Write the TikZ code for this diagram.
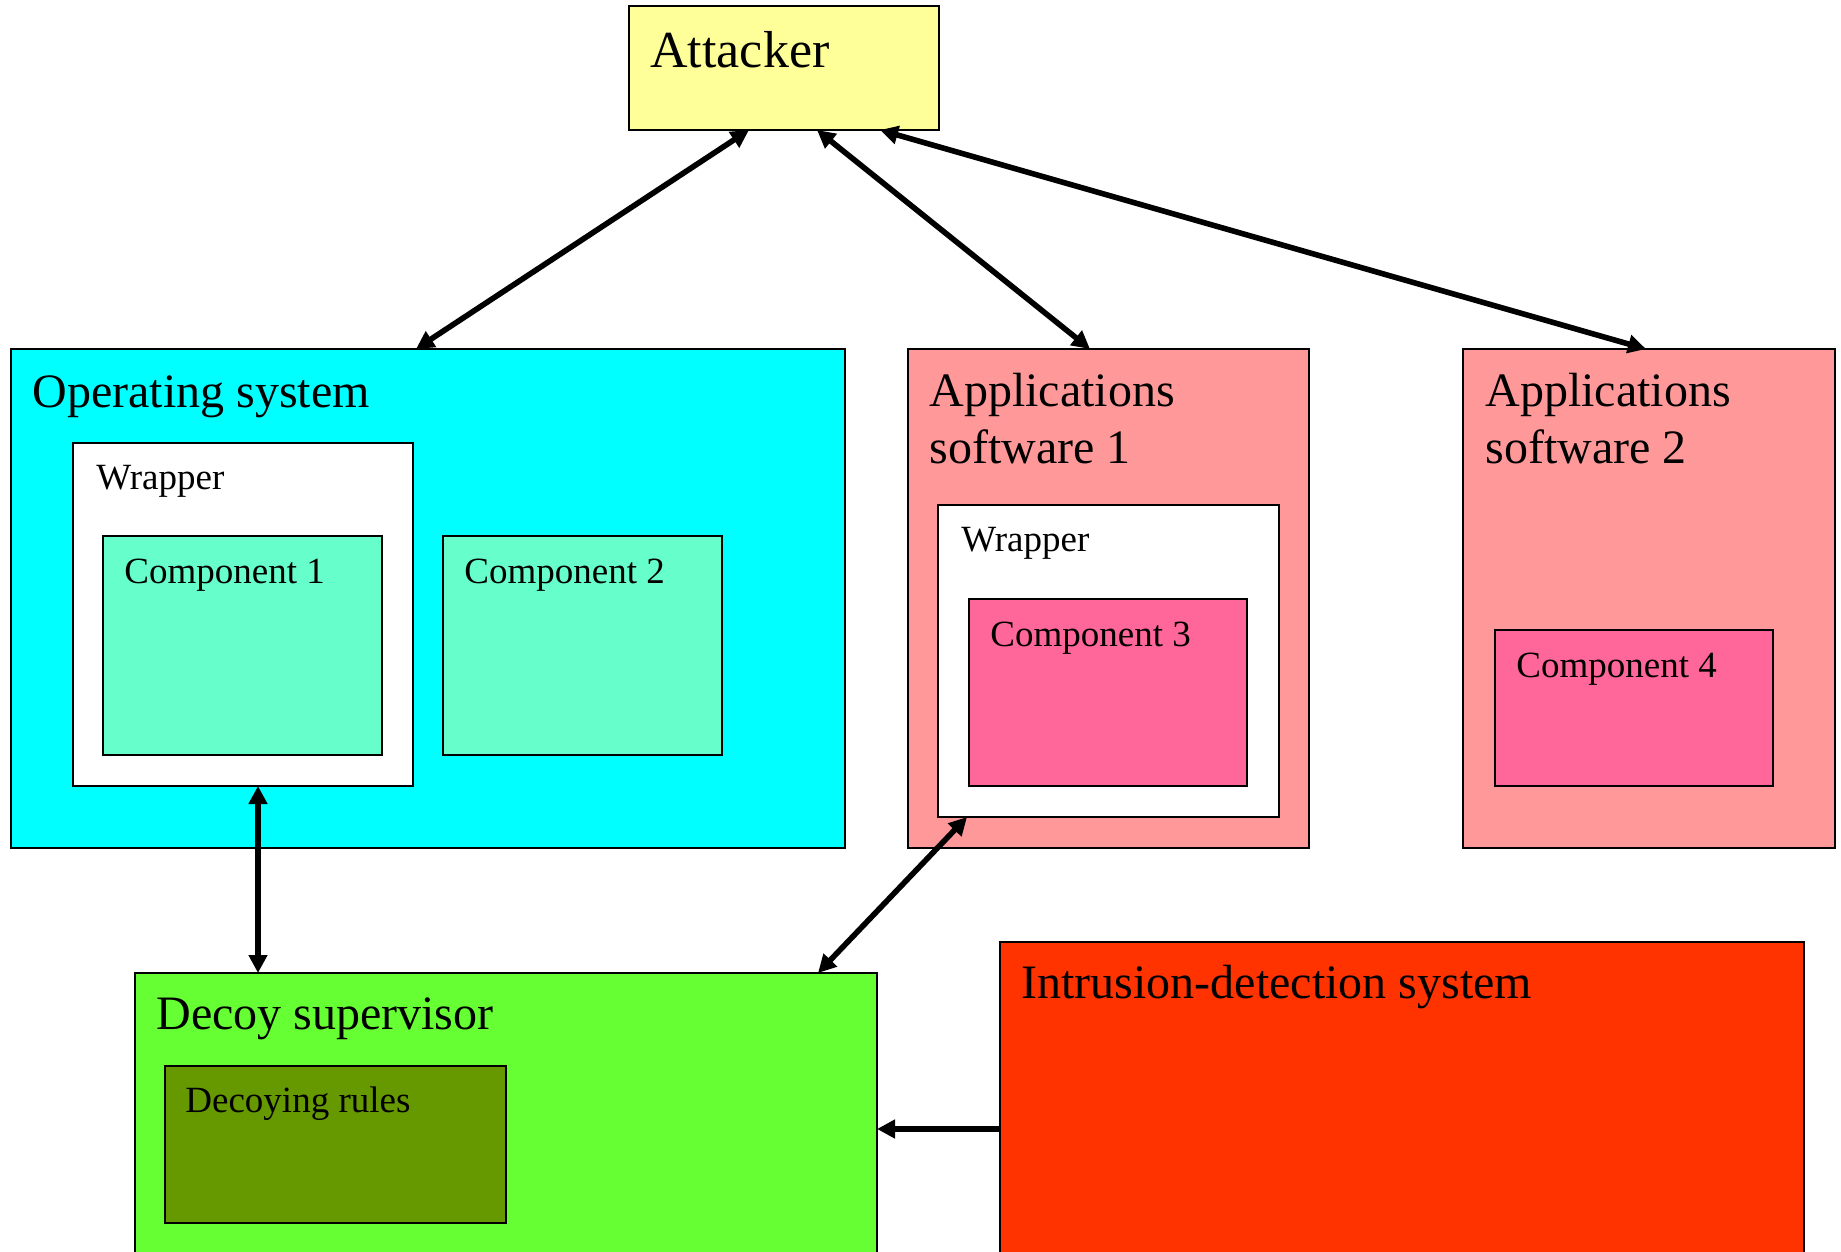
\documentclass[tikz,border=0pt]{standalone}
\usepackage{fontspec}
\setmainfont{Liberation Serif}
\usetikzlibrary{arrows.meta}

\definecolor{attackfill}{HTML}{FFFF99}
\definecolor{osfill}{HTML}{00FFFF}
\definecolor{compfill}{HTML}{66FFCC}
\definecolor{appfill}{HTML}{FF9999}
\definecolor{appcomp}{HTML}{FF6699}
\definecolor{decoyfill}{HTML}{66FF33}
\definecolor{rulesfill}{HTML}{669900}
\definecolor{idsfill}{HTML}{FF3300}

\tikzset{
  box/.style={draw=black, line width=0.9pt, inner sep=0pt, outer sep=0pt, anchor=north west},
  bigtext/.style={font=\fontsize{24}{28.5}\selectfont, inner sep=0pt, anchor=base west},
  smalltext/.style={font=\fontsize{18.5}{22}\selectfont, inner sep=0pt, anchor=base west},
  toptext/.style={font=\fontsize{26}{31}\selectfont, inner sep=0pt, anchor=base west},
  link/.style={line width=2.8pt, {Triangle[length=9pt,width=9pt]}-{Triangle[length=9pt,width=9pt]}},
  oneway/.style={line width=2.8pt, -{Triangle[length=9pt,width=9pt]}}
}

\begin{document}
\begin{tikzpicture}[x=0.5pt,y=-0.5pt]
\clip (0,0) rectangle (1841,1252);
\fill[white] (0,0) rectangle (1841,1252);

% attacker
\node[box, fill=attackfill, minimum width=155pt, minimum height=62pt] (att) at (629,6) {};
\node[toptext] (attlbl) at ([xshift=10.5pt,yshift=-31pt]att.north west) {Attacker};

% operating system with its components
\node[box, fill=osfill, minimum width=417pt, minimum height=249.5pt] (os) at (11,349) {};
\node[bigtext] (oslbl) at ([xshift=10.5pt,yshift=-29pt]os.north west) {Operating system};
\node[box, fill=white, minimum width=170pt, minimum height=171.5pt] (wrapA) at (73,443) {};
\node[smalltext] (wrapAlbl) at ([xshift=11.5pt,yshift=-23pt]wrapA.north west) {Wrapper};
\node[box, fill=compfill, minimum width=139.5pt, minimum height=109.5pt] (compA) at (103,536) {};
\node[smalltext] (compAlbl) at ([xshift=10.5pt,yshift=-23.5pt]compA.north west) {Component 1};
\node[box, fill=compfill, minimum width=139.5pt, minimum height=109.5pt] (compB) at (443,536) {};
\node[smalltext] (compBlbl) at ([xshift=10.5pt,yshift=-23.5pt]compB.north west) {Component 2};

% applications software 1
\node[box, fill=appfill, minimum width=200.5pt, minimum height=249.5pt] (appA) at (908,349) {};
\node[bigtext] (appAlbl) at ([xshift=10.5pt,yshift=-28.5pt]appA.north west) {Applications};
\node[bigtext] (appAlblb) at ([xshift=10.5pt,yshift=-57pt]appA.north west) {software 1};
\node[box, fill=white, minimum width=170.5pt, minimum height=156pt] (wrapB) at (938,505) {};
\node[smalltext] (wrapBlbl) at ([xshift=11.5pt,yshift=-23pt]wrapB.north west) {Wrapper};
\node[box, fill=appcomp, minimum width=139pt, minimum height=93.5pt] (compC) at (969,599) {};
\node[smalltext] (compClbl) at ([xshift=10.5pt,yshift=-23.5pt]compC.north west) {Component 3};

% applications software 2
\node[box, fill=appfill, minimum width=186pt, minimum height=249.5pt] (appB) at (1463,349) {};
\node[bigtext] (appBlbl) at ([xshift=11pt,yshift=-28.5pt]appB.north west) {Applications};
\node[bigtext] (appBlblb) at ([xshift=11pt,yshift=-57pt]appB.north west) {software 2};
\node[box, fill=appcomp, minimum width=139pt, minimum height=78pt] (compD) at (1495,630) {};
\node[smalltext] (compDlbl) at ([xshift=10.5pt,yshift=-23.5pt]compD.north west) {Component 4};

% decoy supervisor
\node[box, fill=decoyfill, minimum width=371pt, minimum height=160pt] (decoy) at (135,973) {};
\node[bigtext] (decoylbl) at ([xshift=10.5pt,yshift=-28pt]decoy.north west) {Decoy supervisor};
\node[box, fill=rulesfill, minimum width=170.5pt, minimum height=78.5pt] (rules) at (165,1066) {};
\node[smalltext] (ruleslbl) at ([xshift=10pt,yshift=-23pt]rules.north west) {Decoying rules};

% intrusion-detection system
\node[box, fill=idsfill, minimum width=402pt, minimum height=170pt] (ids) at (1000,942) {};
\node[bigtext] (idslbl) at ([xshift=10.5pt,yshift=-28pt]ids.north west) {Intrusion-detection system};

% connectors
\draw[link] ([xshift=60pt]att.south west) -- ([xshift=202.5pt]os.north west);
\draw[link] ([xshift=94pt]att.south west) -- ([xshift=91pt]appA.north west);
\draw[link] ([xshift=125.5pt]att.south west) -- ([xshift=91.5pt]appB.north west);
\draw[link] ([xshift=92.5pt]wrapA.south west) -- ([xshift=61.5pt]decoy.north west);
\draw[link] ([xshift=14.5pt]wrapB.south west) -- ([xshift=341.5pt]decoy.north west);
\draw[oneway] ([yshift=-93.5pt]ids.north west) -- ([yshift=-78pt]decoy.north east);
\end{tikzpicture}
\end{document}
